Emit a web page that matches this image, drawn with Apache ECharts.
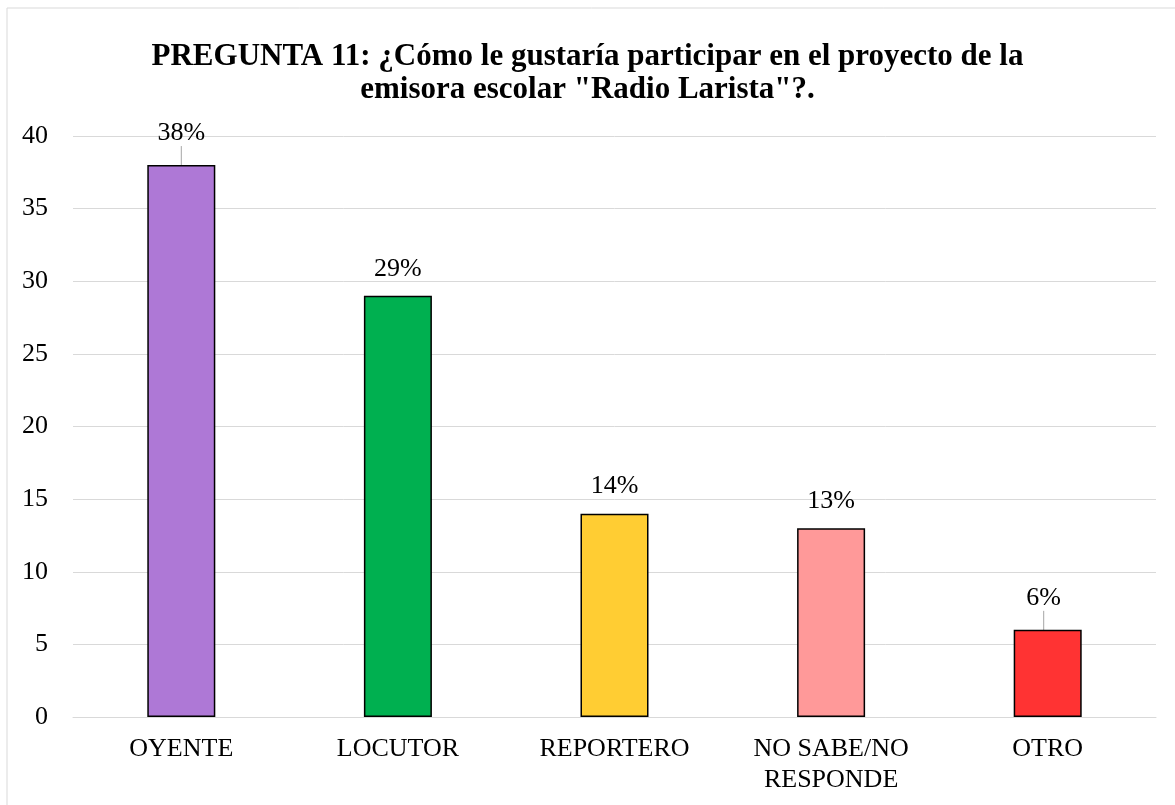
<!DOCTYPE html>
<html>
<head>
<meta charset="utf-8">
<script src="https://cdn.jsdelivr.net/npm/echarts@6/dist/echarts.min.js"></script>
<style>
html,body{margin:0;padding:0;background:#fff;}
#chart{width:1175px;height:805px;}
</style>
</head>
<body>
<div id="chart"></div>
<script>
const titleText = 'PREGUNTA 11: ¿Cómo le gustaría participar en el proyecto de la\nemisora escolar "Radio Larista"?.';
const categories = ['OYENTE', 'LOCUTOR', 'REPORTERO', 'NO SABE/NO\nRESPONDE', 'OTRO'];
const values = [38, 29, 14, 13, 6];
const percentLabels = ['38%', '29%', '14%', '13%', '6%'];
const barColors = ['#AE78D6', '#00B050', '#FFCD33', '#FF9999', '#FF3333'];
const yTicks = { min: 0, max: 40, interval: 5 };

const FONT = '"Liberation Serif", "Times New Roman", serif';

// label shifts (with leader lines) for the first and last bar
const labelShift = [{dx:0, dy:-5}, null, null, null, {dx:-4, dy:-5}];

const chart = echarts.init(document.getElementById('chart'), null, {renderer: 'canvas'});
chart.setOption({
  backgroundColor: '#fff',
  animation: false,
  title: {
    text: titleText,
    left: 'center',
    top: 35,
    textStyle: { fontFamily: FONT, fontWeight: 'bold', fontSize: 31, lineHeight: 33, color: '#000' }
  },
  graphic: [{
    type: 'rect',
    shape: { x: 7, y: 8, width: 1180, height: 810 },
    style: { fill: 'none', stroke: '#D9D9D9', lineWidth: 1 },
    silent: true
  }],
  grid: { left: 73, right: 19, top: 136, bottom: 88, containLabel: false },
  xAxis: {
    type: 'category',
    data: categories,
    axisLine: { show: true, lineStyle: { color: '#D9D9D9', width: 1 } },
    axisTick: { show: false },
    axisLabel: { fontFamily: FONT, fontSize: 26, color: '#000', margin: 17, lineHeight: 31, interval: 0 }
  },
  yAxis: {
    type: 'value',
    min: yTicks.min, max: yTicks.max, interval: yTicks.interval,
    axisLine: { show: false },
    axisTick: { show: false },
    splitLine: { lineStyle: { color: '#D9D9D9', width: 1 } },
    axisLabel: { fontFamily: FONT, fontSize: 26, color: '#000', margin: 25 }
  },
  series: [{
    type: 'bar',
    barWidth: '31.4%',
    data: values.map((v, i) => ({
      value: v,
      itemStyle: { color: barColors[i], borderColor: '#000', borderWidth: 1.5 },
      label: { formatter: percentLabels[i] },
      labelLine: { show: !!labelShift[i] }
    })),
    label: {
      show: true,
      position: 'top',
      distance: 14,
      fontFamily: FONT,
      fontSize: 26,
      color: '#000'
    },
    labelLine: { show: false, lineStyle: { color: '#A6A6A6', width: 1 } },
    labelLayout: function (params) {
      const s = labelShift[params.dataIndex];
      if (!s) return {};
      return { dx: s.dx, dy: s.dy };
    }
  }]
});
</script>
</body>
</html>
